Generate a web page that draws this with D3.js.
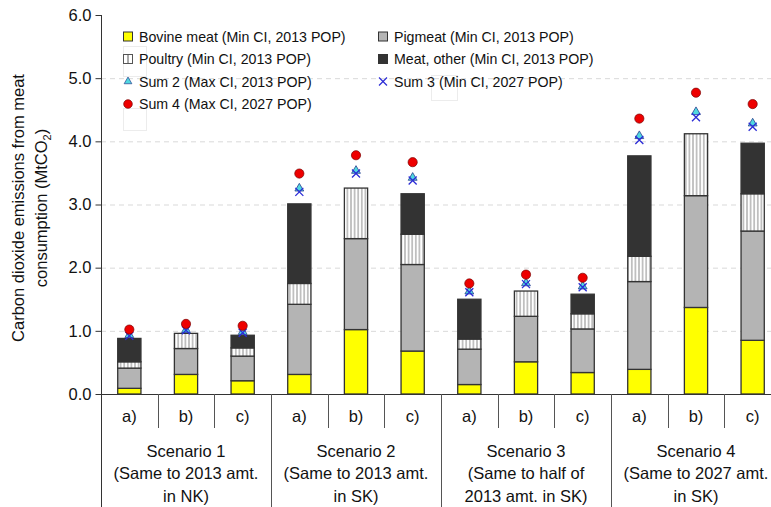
<!DOCTYPE html>
<html>
<head>
<meta charset="utf-8">
<script src="https://cdn.jsdelivr.net/npm/d3@7"></script>
<style>
  html, body { margin: 0; padding: 0; background: #fff; }
  svg { display: block; font-family: "Liberation Sans", Arial, Helvetica, sans-serif; }
</style>
</head>
<body>
<svg id="chart" width="771" height="507"></svg>
<script>
// Scenario / option categories (12 stacked bars)
const scenarios = ["Scenario 1", "Scenario 2", "Scenario 3", "Scenario 4"];
const scenarioLines = [
  ["Scenario 1", "(Same to 2013 amt.", "in NK)"],
  ["Scenario 2", "(Same to 2013 amt.", "in SK)"],
  ["Scenario 3", "(Same to half of", "2013 amt. in SK)"],
  ["Scenario 4", "(Same to 2027 amt.", "in SK)"]
];
const options = ["a)", "b)", "c)"];

// Stacked components, MtCO2 (Min CI, 2013 POP)
const bovine  = [0.09, 0.31, 0.21, 0.31, 1.02, 0.68, 0.15, 0.51, 0.34, 0.39, 1.37, 0.85];
const pigmeat = [0.32, 0.41, 0.39, 1.11, 1.44, 1.37, 0.56, 0.72, 0.69, 1.39, 1.77, 1.73];
const poultry = [0.10, 0.24, 0.13, 0.33, 0.80, 0.48, 0.16, 0.40, 0.24, 0.40, 0.98, 0.59];
const other   = [0.37, 0.00, 0.20, 1.26, 0.00, 0.64, 0.63, 0.00, 0.31, 1.59, 0.00, 0.80];

// Totals under other assumptions
const sum2 = [0.95, 1.03, 1.00, 3.27, 3.55, 3.44, 1.64, 1.77, 1.72, 4.10, 4.48, 4.30]; // Max CI, 2013 POP
const sum3 = [0.92, 1.01, 0.97, 3.20, 3.49, 3.38, 1.61, 1.74, 1.69, 4.02, 4.38, 4.23]; // Min CI, 2027 POP
const sum4 = [1.02, 1.11, 1.08, 3.49, 3.78, 3.67, 1.75, 1.89, 1.84, 4.36, 4.77, 4.59]; // Max CI, 2027 POP

const yTicks = [0, 1, 2, 3, 4, 5, 6];

const legendLabels = {
  bovine: "Bovine meat (Min CI, 2013 POP)",
  pigmeat: "Pigmeat (Min CI, 2013 POP)",
  poultry: "Poultry (Min CI, 2013 POP)",
  other: "Meat, other (Min CI, 2013 POP)",
  sum2: "Sum 2 (Max CI, 2013 POP)",
  sum3: "Sum 3 (Min CI, 2027 POP)",
  sum4: "Sum 4 (Max CI, 2027 POP)"
};

// ---- layout ----
const svg = d3.select("#chart");
const plotL = 101, plotR = 781, plotT = 15, plotB = 394;
const W = 771, H = 507;
const FS = 16.5;

const ids = d3.range(12);
const rows = ids.map(i => ({
  id: i,
  scen: Math.floor(i / 3),
  opt: options[i % 3],
  bovine: bovine[i], pigmeat: pigmeat[i], poultry: poultry[i], other: other[i],
  sum2: sum2[i], sum3: sum3[i], sum4: sum4[i]
}));

const x = d3.scaleBand().domain(ids).range([plotL, plotR])
  .paddingInner(0.59).paddingOuter(0.295);
const step = x.step();
const y = d3.scaleLinear().domain([0, 6]).range([plotB, plotT]);
const cx = i => x(i) + x.bandwidth() / 2;

// Pattern for poultry (vertical stripes)
const defs = svg.append("defs");
const pat = defs.append("pattern").attr("id", "stripes")
  .attr("patternUnits", "userSpaceOnUse").attr("width", 3.6).attr("height", 10);
pat.append("rect").attr("width", 3.6).attr("height", 10).attr("fill", "#fff");
pat.append("line").attr("x1", 1.8).attr("x2", 1.8).attr("y1", 0).attr("y2", 10)
  .attr("stroke", "#8c8c8c").attr("stroke-width", 1);

const fills = { bovine: "#ffff00", pigmeat: "#b4b4b4", poultry: "url(#stripes)", other: "#333333" };

// gridlines
svg.append("g").selectAll("line").data(yTicks.filter(t => t > 0 && t < 6)).join("line")
  .attr("x1", plotL).attr("x2", W)
  .attr("y1", d => y(d) + 0.5).attr("y2", d => y(d) + 0.5)
  .attr("stroke", "#d9d9d9").attr("stroke-width", 1).attr("stroke-dasharray", "5,4");

// faint legend frame remnants
const frames = [[123, 46, 23, 30], [123, 108, 23, 22], [431, 75, 26, 25]];
svg.append("g").selectAll("rect").data(frames).join("rect")
  .attr("x", d => d[0] + 0.5).attr("y", d => d[1] + 0.5)
  .attr("width", d => d[2]).attr("height", d => d[3])
  .attr("fill", "none").attr("stroke", "#ececec").attr("stroke-width", 1);

// stacked bars
const keys = ["bovine", "pigmeat", "poultry", "other"];
const stacked = d3.stack().keys(keys)(rows);
svg.append("g").selectAll("g").data(stacked).join("g")
  .attr("fill", d => fills[d.key])
  .selectAll("rect").data(d => d.filter(s => s[1] - s[0] > 0)).join("rect")
  .attr("x", d => x(d.data.id))
  .attr("width", x.bandwidth())
  .attr("y", d => y(d[1]))
  .attr("height", d => y(d[0]) - y(d[1]))
  .attr("stroke", "#333").attr("stroke-width", 1.3);

// markers
const tri = d3.symbol().type(d3.symbolTriangle).size(34);
const mk = svg.append("g");
mk.selectAll("path.t").data(rows).join("path").attr("class", "t")
  .attr("d", tri)
  .attr("transform", d => `translate(${cx(d.id)},${y(d.sum2) + 1})`)
  .attr("fill", "#4fd8e0").attr("stroke", "#2a3f8f").attr("stroke-width", 0.8);
mk.selectAll("path.x").data(rows).join("path").attr("class", "x")
  .attr("d", "M-4,-4L4,4M-4,4L4,-4")
  .attr("transform", d => `translate(${cx(d.id)},${y(d.sum3)})`)
  .attr("fill", "none").attr("stroke", "#2b2bd6").attr("stroke-width", 1.3);
mk.selectAll("circle").data(rows).join("circle")
  .attr("cx", d => cx(d.id)).attr("cy", d => y(d.sum4)).attr("r", 4.6)
  .attr("fill", "#ee0000").attr("stroke", "#7a0000").attr("stroke-width", 0.7);

// y axis
const yAxis = svg.append("g").attr("transform", `translate(${plotL + 0.5},0)`)
  .call(d3.axisLeft(y).tickValues(yTicks).tickFormat(d3.format(".1f")).tickSize(6).tickSizeOuter(0).tickPadding(4));
yAxis.select(".domain").remove();
yAxis.selectAll(".tick line").attr("stroke", "#333").attr("stroke-width", 1);
yAxis.selectAll(".tick text").attr("font-size", FS).attr("fill", "#111")
  .attr("font-family", "Liberation Sans, Arial, sans-serif");
svg.append("line").attr("x1", plotL + 0.5).attr("x2", plotL + 0.5).attr("y1", plotT).attr("y2", H)
  .attr("stroke", "#333").attr("stroke-width", 1);

// x axis baseline
svg.append("line").attr("x1", plotL).attr("x2", W).attr("y1", plotB + 0.5).attr("y2", plotB + 0.5)
  .attr("stroke", "#333").attr("stroke-width", 1);

// category separators and labels
const xg = svg.append("g");
ids.forEach(i => {
  const edge = cx(i) + step / 2;
  const isGroup = (i % 3) === 2;
  xg.append("line").attr("x1", Math.round(edge) + 0.5).attr("x2", Math.round(edge) + 0.5)
    .attr("y1", plotB).attr("y2", isGroup ? H : 428)
    .attr("stroke", "#555").attr("stroke-width", 1);
});
xg.selectAll("text.opt").data(rows).join("text").attr("class", "opt")
  .attr("x", d => cx(d.id)).attr("y", 422).attr("text-anchor", "middle")
  .attr("font-size", FS).attr("fill", "#111").text(d => d.opt);
scenarioLines.forEach((lines, s) => {
  const mid = (cx(s * 3) + cx(s * 3 + 2)) / 2;
  lines.forEach((t, k) => {
    xg.append("text").attr("x", mid).attr("y", 457 + k * 22.3).attr("text-anchor", "middle")
      .attr("font-size", FS).attr("fill", "#111").text(t);
  });
});

// y title
const yt = svg.append("text").attr("transform", "translate(0,208) rotate(-90)")
  .attr("text-anchor", "middle").attr("font-size", FS).attr("fill", "#111");
yt.append("tspan").attr("x", 0).attr("y", 24).text("Carbon dioxide emissions from meat");
const l2 = yt.append("tspan").attr("x", 0).attr("y", 47).text("consumption (MtCO");
l2.append("tspan").attr("font-size", 11).attr("dy", 4).text("2");
l2.append("tspan").attr("dy", -4).text(")");

// legend
const LF = 14.2;
const legendItems = [
  { key: "bovine", col: 0, row: 0 }, { key: "pigmeat", col: 1, row: 0 },
  { key: "poultry", col: 0, row: 1 }, { key: "other", col: 1, row: 1 },
  { key: "sum2", col: 0, row: 2 }, { key: "sum3", col: 1, row: 2 },
  { key: "sum4", col: 0, row: 3 }
];
const colX = [128, 383], rowY = [36.5, 59, 81.5, 104];
const lg = svg.append("g");
legendItems.forEach(it => {
  const mx = colX[it.col], my = rowY[it.row];
  const g = lg.append("g").attr("transform", `translate(${mx},${my})`);
  if (["bovine", "pigmeat", "other"].includes(it.key)) {
    g.append("rect").attr("x", -4.5).attr("y", -4.5).attr("width", 9).attr("height", 9)
      .attr("fill", fills[it.key]).attr("stroke", "#333").attr("stroke-width", 1);
  } else if (it.key === "poultry") {
    g.append("rect").attr("x", -4.5).attr("y", -4.5).attr("width", 9).attr("height", 9)
      .attr("fill", "#fff").attr("stroke", "#555").attr("stroke-width", 1);
    g.append("line").attr("x1", 0).attr("x2", 0).attr("y1", -4.5).attr("y2", 4.5)
      .attr("stroke", "#555").attr("stroke-width", 1);
  } else if (it.key === "sum2") {
    g.append("path").attr("d", d3.symbol().type(d3.symbolTriangle).size(26)())
      .attr("fill", "#4fd8e0").attr("stroke", "#2a3f8f").attr("stroke-width", 0.7);
  } else if (it.key === "sum3") {
    g.append("path").attr("d", "M-4,-4L4,4M-4,4L4,-4").attr("fill", "none")
      .attr("stroke", "#2b2bd6").attr("stroke-width", 1.2);
  } else {
    g.append("circle").attr("r", 4.3).attr("fill", "#ee0000")
      .attr("stroke", "#7a0000").attr("stroke-width", 0.7);
  }
  g.append("text").attr("x", 11).attr("y", 5).attr("font-size", LF).attr("fill", "#111")
    .text(legendLabels[it.key]);
});
</script>
</body>
</html>
